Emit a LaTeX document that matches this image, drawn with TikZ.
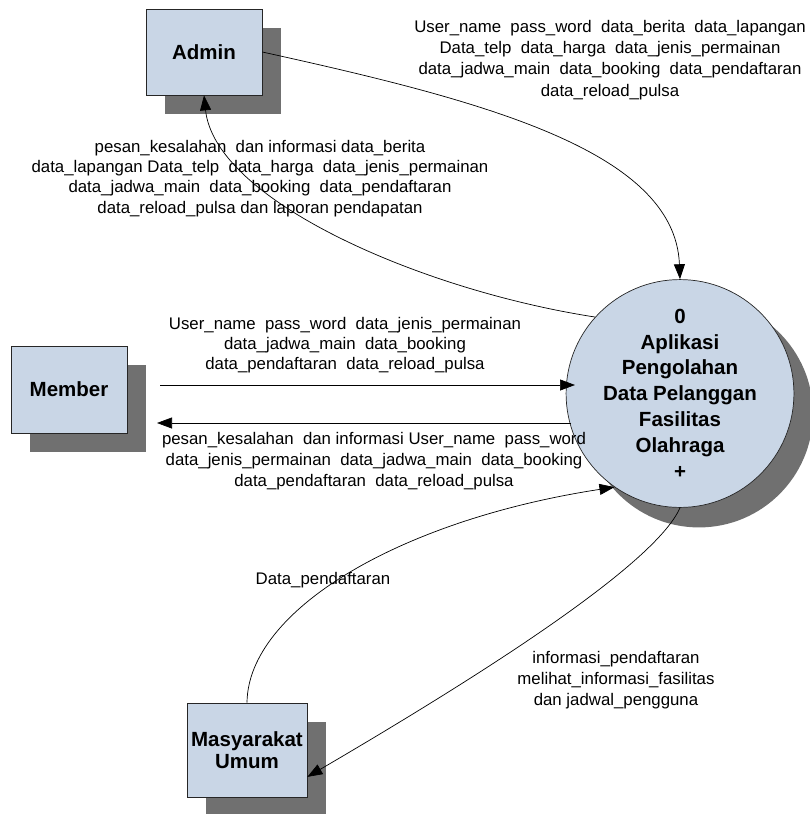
\documentclass[tikz,border=0pt]{standalone}
\usepackage{fontspec}
\setmainfont{Liberation Sans}
\usetikzlibrary{arrows.meta,shadows}
\definecolor{boxfill}{RGB}{201,214,230}
\definecolor{shadowgray}{RGB}{112,112,112}
\begin{document}
\begin{tikzpicture}[x=1pt,y=-1pt,
  entity/.style={draw=black!85, line width=0.7pt, fill=boxfill, inner sep=0pt, align=center,
    font=\fontsize{20.5}{22}\selectfont\bfseries,
    drop shadow={shadow xshift=19pt, shadow yshift=-19pt, opacity=1, fill=shadowgray}},
  procc/.style={circle, draw=black!85, line width=0.7pt, fill=boxfill, inner sep=0pt, minimum size=178pt, align=center,
    font=\fontsize{20.5}{25.8}\selectfont\bfseries,
    drop shadow={shadow xshift=19pt, shadow yshift=-20pt, opacity=1, fill=shadowgray}},
  lbl/.style={align=center, inner sep=0pt, font=\fontsize{16.8}{21}\selectfont},
  arr/.style={line width=0.7pt, -{Triangle[length=15pt,width=11pt]}}
]
\useasboundingbox (0,0) rectangle (809,814);
% entities
\node[entity, minimum width=116pt, minimum height=86pt] (admin) at (204,52) {Admin};
\node[entity, minimum width=116pt, minimum height=87pt] (member) at (69,389.5) {Member};
\node[entity, minimum width=120pt, minimum height=94pt] (masy) at (247,750) {Masyarakat\\Umum};
\node[procc] (proc) at (680,393.5) {0\\Aplikasi\\Pengolahan\\Data Pelanggan\\Fasilitas\\Olahraga\\+};
% member arrow endpoints
\coordinate (mf1) at (160,385);
\coordinate (mf2) at (575,385);
\coordinate (mb1) at (571,423);
\coordinate (mb2) at (157,423);
% connectors
\draw[arr] (admin.east) .. controls (480,100) and (675,150) .. (proc.north);
\draw[arr] (proc.138) .. controls (420,290) and (215,200) .. (admin.south);
\draw[arr] (mf1) -- (mf2);
\draw[arr] (mb1) -- (mb2);
\draw[arr] (masy.north) .. controls (248,610) and (400,520) .. (proc.235);
\draw[arr] (proc.south) .. controls (655,565) and (478,677) .. (masy.-24);
% labels
\node[lbl, font=\fontsize{16.8}{21.3}\selectfont] (l1) at (610,60) {User\_name~ pass\_word~ data\_berita~ data\_lapangan\\Data\_telp~ data\_harga~ data\_jenis\_permainan\\data\_jadwa\_main~ data\_booking~ data\_pendaftaran\\data\_reload\_pulsa};
\node[lbl, font=\fontsize{16.8}{20.3}\selectfont] (l2) at (260,178.5) {pesan\_kesalahan~ dan informasi data\_berita\\data\_lapangan Data\_telp~ data\_harga~ data\_jenis\_permainan\\data\_jadwa\_main~ data\_booking~ data\_pendaftaran\\data\_reload\_pulsa dan laporan pendapatan};
\node[lbl, font=\fontsize{16.8}{20}\selectfont] (l3) at (345,345) {User\_name~ pass\_word~ data\_jenis\_permainan\\data\_jadwa\_main~ data\_booking\\data\_pendaftaran~ data\_reload\_pulsa};
\node[lbl, font=\fontsize{16.8}{20.7}\selectfont] (l4) at (374,461) {pesan\_kesalahan~ dan informasi User\_name~ pass\_word\\data\_jenis\_permainan~ data\_jadwa\_main~ data\_booking\\data\_pendaftaran~ data\_reload\_pulsa};
\node[lbl] (l5) at (323,580) {Data\_pendaftaran};
\node[lbl] (l6) at (616,680) {informasi\_pendaftaran\\melihat\_informasi\_fasilitas\\dan jadwal\_pengguna};
\end{tikzpicture}
\end{document}
